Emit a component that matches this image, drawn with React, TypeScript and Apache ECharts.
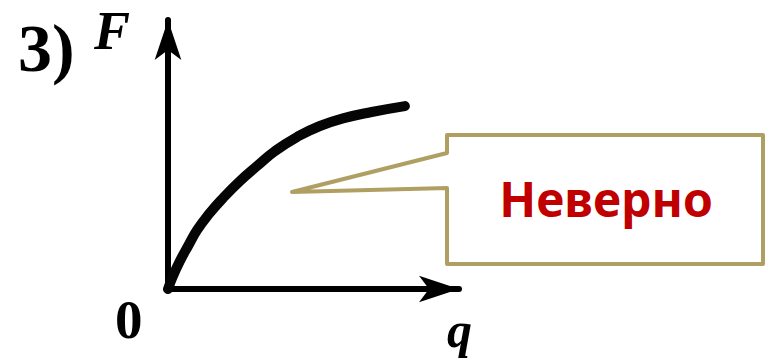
import React, { useEffect, useRef } from "react";
import * as echarts from "echarts";

// Curve F(q), in axis units (q: 0..10, F: 0..10)
const qValues = [0, 0.17, 0.41, 0.69, 1.0, 1.41, 1.89, 2.47, 3.06, 3.68, 4.43, 5.22, 6.08, 7.0, 8.14];
const fValues = [0, 0.48, 1.04, 1.6, 2.19, 2.79, 3.38, 4.01, 4.57, 5.13, 5.65, 6.06, 6.36, 6.58, 6.8];

const labelNumber = "3)";
const yName = "F";
const xName = "q";
const originLabel = "0";
const calloutText = "Неверно";

export default function App() {
  const ref = useRef<HTMLDivElement>(null);
  useEffect(() => {
    if (!ref.current) return;
    const chart = echarts.init(ref.current, null, { renderer: "svg" });
    const serif = "'Liberation Serif', 'DejaVu Serif', serif";
    const calloutColor = "#b09f62";
    const axisStyle = {
      show: true,
      symbol: ["none", "arrow"],
      symbolSize: [20, 40],
      lineStyle: { color: "#000", width: 6 },
    };
    chart.setOption({
      animation: false,
      backgroundColor: "#ffffff",
      grid: { left: 168, right: 311, top: 20, bottom: 74 },
      xAxis: {
        type: "value",
        min: 0,
        max: 10,
        axisLine: axisStyle,
        axisTick: { show: false },
        axisLabel: { show: false },
        splitLine: { show: false },
      },
      yAxis: {
        type: "value",
        min: 0,
        max: 10,
        axisLine: axisStyle,
        axisTick: { show: false },
        axisLabel: { show: false },
        splitLine: { show: false },
      },
      series: [
        {
          type: "line",
          data: qValues.map((q, i) => [q, fValues[i]]),
          smooth: true,
          showSymbol: false,
          lineStyle: { color: "#050505", width: 10, cap: "round", join: "round" },
          z: 3,
        },
      ],
      graphic: [
        {
          type: "text",
          style: { text: labelNumber, x: 18, y: 48, font: `bold 68px ${serif}`, fill: "#000", verticalAlign: "middle" },
        },
        {
          type: "text",
          style: { text: yName, x: 94, y: 31, font: `italic bold 54px ${serif}`, fill: "#000", verticalAlign: "middle" },
        },
        {
          type: "text",
          style: { text: originLabel, x: 115, y: 319, font: `bold 55px ${serif}`, fill: "#000", verticalAlign: "middle" },
        },
        {
          type: "text",
          style: { text: xName, x: 447, y: 330, font: `italic bold 50px ${serif}`, fill: "#000", verticalAlign: "middle" },
        },
        {
          type: "polygon",
          shape: {
            points: [
              [447, 135],
              [763, 135],
              [763, 264],
              [447, 264],
              [447, 188],
              [292, 192],
              [447, 153],
            ],
          },
          style: { fill: "#ffffff", stroke: calloutColor, lineWidth: 4, lineJoin: "round" },
          z: 10,
        },
        {
          type: "text",
          z: 11,
          style: {
            text: calloutText,
            x: 606,
            y: 198,
            font: "bold 48px 'Noto Sans', 'Liberation Sans', sans-serif",
            fill: "#c00000",
            align: "center",
            verticalAlign: "middle",
          },
        },
      ],
    });
    return () => chart.dispose();
  }, []);
  return (
    <div
      ref={ref}
      style={{ position: "fixed", left: 0, top: 0, width: 770, height: 363 }}
    />
  );
}
